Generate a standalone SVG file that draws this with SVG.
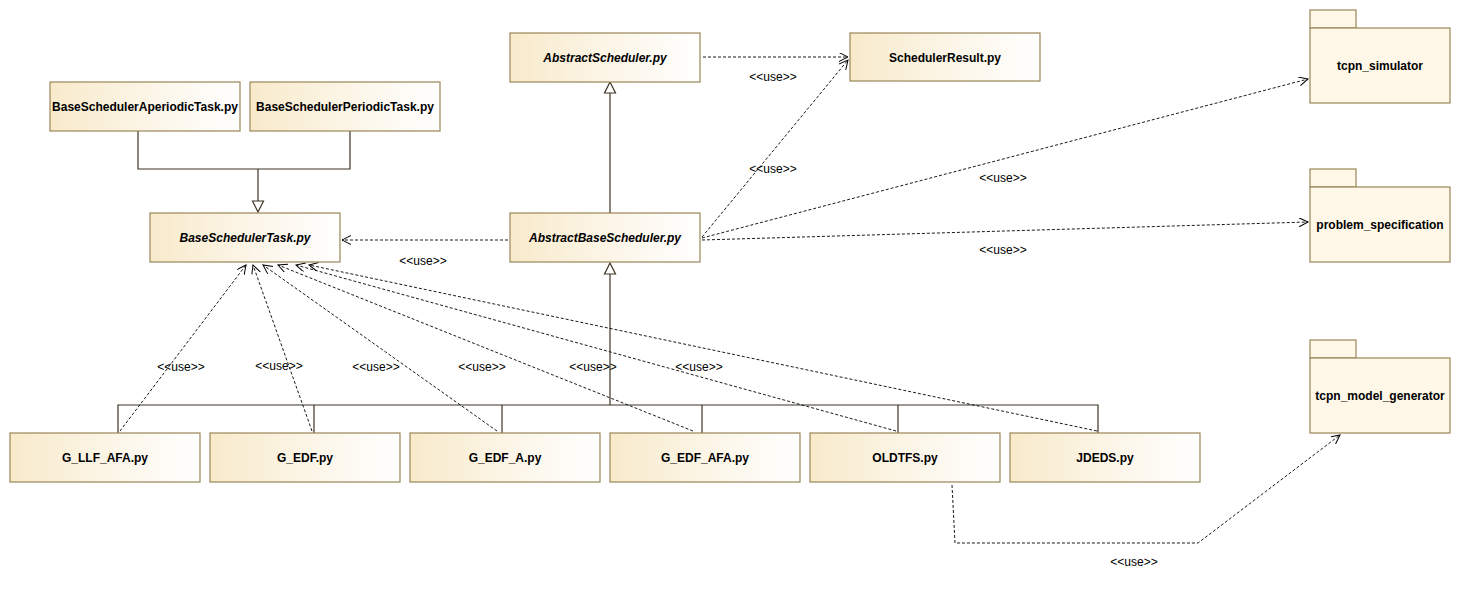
<svg xmlns="http://www.w3.org/2000/svg" width="1461" height="592" viewBox="0 0 1461 592">
<defs>
<linearGradient id="g" x1="0" y1="0" x2="1" y2="0">
<stop offset="0" stop-color="#f8eacb"/>
<stop offset="0.5" stop-color="#fcf5e6"/>
<stop offset="1" stop-color="#ffffff"/>
</linearGradient>
<marker id="open" markerUnits="userSpaceOnUse" markerWidth="12" markerHeight="12" refX="9" refY="4.5" orient="auto" viewBox="0 0 12 12">
<path d="M0,0 L9,4.5 L0,9" fill="none" stroke="#000" stroke-width="1"/>
</marker>
</defs>
<style>
.box{fill:url(#g);stroke:#9a8558;stroke-width:1.2}
.pkg{fill:#fff8e8;stroke:#9a8558;stroke-width:1.2}
.t{font-family:"Liberation Sans",Arial,sans-serif;font-size:12px;font-weight:bold;fill:#000;text-anchor:middle}
.i{font-style:italic}
.u{font-family:"Liberation Sans",Arial,sans-serif;font-size:12px;fill:#000;text-anchor:middle}
.dash{fill:none;stroke:#000;stroke-width:0.9;stroke-dasharray:3,2;marker-end:url(#open)}
.gen{fill:none;stroke:#3d3324;stroke-width:1.2}
.tri{fill:#fff;stroke:#3d3324;stroke-width:1.2}
</style>
<rect width="1461" height="592" fill="#fff"/>

<g id="connectors">
<polyline class="gen" points="138,131 138,169 350,169 350,131"/>
<line class="gen" x1="258" y1="169" x2="258" y2="201"/>
<polygon class="tri" points="258,212 252.5,201 263.5,201"/>
<line class="gen" x1="610" y1="213" x2="610" y2="93"/>
<polygon class="tri" points="610,82 604.5,93 615.5,93"/>
<polyline class="gen" points="118,433 118,405 1098,405 1098,433"/>
<line class="gen" x1="314" y1="405" x2="314" y2="433"/>
<line class="gen" x1="502" y1="405" x2="502" y2="433"/>
<line class="gen" x1="702" y1="405" x2="702" y2="433"/>
<line class="gen" x1="898" y1="405" x2="898" y2="433"/>
<line class="gen" x1="610" y1="405" x2="610" y2="274"/>
<polygon class="tri" points="610,263 604.5,274 615.5,274"/>

<line class="dash" x1="703" y1="57" x2="848" y2="57"/>
<line class="dash" x1="702" y1="237" x2="848" y2="60"/>
<line class="dash" x1="702" y1="238" x2="1308" y2="79"/>
<line class="dash" x1="702" y1="240" x2="1308" y2="222"/>
<line class="dash" x1="508" y1="240" x2="342" y2="240"/>
<line class="dash" x1="120" y1="431" x2="246" y2="265"/>
<line class="dash" x1="312" y1="431" x2="253" y2="265"/>
<line class="dash" x1="497" y1="431" x2="263" y2="265"/>
<line class="dash" x1="693" y1="431" x2="278" y2="265"/>
<line class="dash" x1="896" y1="431" x2="296" y2="265"/>
<line class="dash" x1="1097" y1="431" x2="309" y2="265"/>
<polyline class="dash" points="952,485 955,543 1198,543 1340,435"/>

<text class="u" x="773" y="81">&lt;&lt;use&gt;&gt;</text>
<text class="u" x="773" y="173">&lt;&lt;use&gt;&gt;</text>
<text class="u" x="1003" y="182">&lt;&lt;use&gt;&gt;</text>
<text class="u" x="1003" y="254">&lt;&lt;use&gt;&gt;</text>
<text class="u" x="423" y="265">&lt;&lt;use&gt;&gt;</text>
<text class="u" x="181" y="371">&lt;&lt;use&gt;&gt;</text>
<text class="u" x="279" y="370">&lt;&lt;use&gt;&gt;</text>
<text class="u" x="376" y="371">&lt;&lt;use&gt;&gt;</text>
<text class="u" x="482" y="371">&lt;&lt;use&gt;&gt;</text>
<text class="u" x="593" y="371">&lt;&lt;use&gt;&gt;</text>
<text class="u" x="699" y="371">&lt;&lt;use&gt;&gt;</text>
<text class="u" x="1134" y="566">&lt;&lt;use&gt;&gt;</text>
</g>

<g id="BaseSchedulerAperiodicTask"><rect class="box" x="50" y="82" width="190" height="49"/><text class="t" x="145" y="111">BaseSchedulerAperiodicTask.py</text></g>
<g id="BaseSchedulerPeriodicTask"><rect class="box" x="250" y="82" width="190" height="49"/><text class="t" x="345" y="111">BaseSchedulerPeriodicTask.py</text></g>
<g id="BaseSchedulerTask"><rect class="box" x="150" y="213" width="190" height="49"/><text class="t i" x="245" y="242">BaseSchedulerTask.py</text></g>
<g id="AbstractScheduler"><rect class="box" x="510" y="33" width="190" height="49"/><text class="t i" x="605" y="62">AbstractScheduler.py</text></g>
<g id="SchedulerResult"><rect class="box" x="850" y="33" width="190" height="48"/><text class="t" x="945" y="62">SchedulerResult.py</text></g>
<g id="AbstractBaseScheduler"><rect class="box" x="510" y="213" width="190" height="49"/><text class="t i" x="605" y="242">AbstractBaseScheduler.py</text></g>

<g id="G_LLF_AFA"><rect class="box" x="10" y="433" width="190" height="49"/><text class="t" x="105" y="462">G_LLF_AFA.py</text></g>
<g id="G_EDF"><rect class="box" x="210" y="433" width="190" height="49"/><text class="t" x="305" y="462">G_EDF.py</text></g>
<g id="G_EDF_A"><rect class="box" x="410" y="433" width="190" height="49"/><text class="t" x="505" y="462">G_EDF_A.py</text></g>
<g id="G_EDF_AFA"><rect class="box" x="610" y="433" width="190" height="49"/><text class="t" x="705" y="462">G_EDF_AFA.py</text></g>
<g id="OLDTFS"><rect class="box" x="810" y="433" width="190" height="49"/><text class="t" x="905" y="462">OLDTFS.py</text></g>
<g id="JDEDS"><rect class="box" x="1010" y="433" width="190" height="49"/><text class="t" x="1105" y="462">JDEDS.py</text></g>

<g id="tcpn_simulator"><rect class="pkg" x="1310" y="10" width="46" height="18"/><rect class="pkg" x="1310" y="28" width="140" height="75"/><text class="t" x="1380" y="70">tcpn_simulator</text></g>
<g id="problem_specification"><rect class="pkg" x="1310" y="169" width="46" height="18"/><rect class="pkg" x="1310" y="187" width="140" height="75"/><text class="t" x="1380" y="229">problem_specification</text></g>
<g id="tcpn_model_generator"><rect class="pkg" x="1310" y="340" width="46" height="18"/><rect class="pkg" x="1310" y="358" width="140" height="75"/><text class="t" x="1380" y="400">tcpn_model_generator</text></g>
</svg>
